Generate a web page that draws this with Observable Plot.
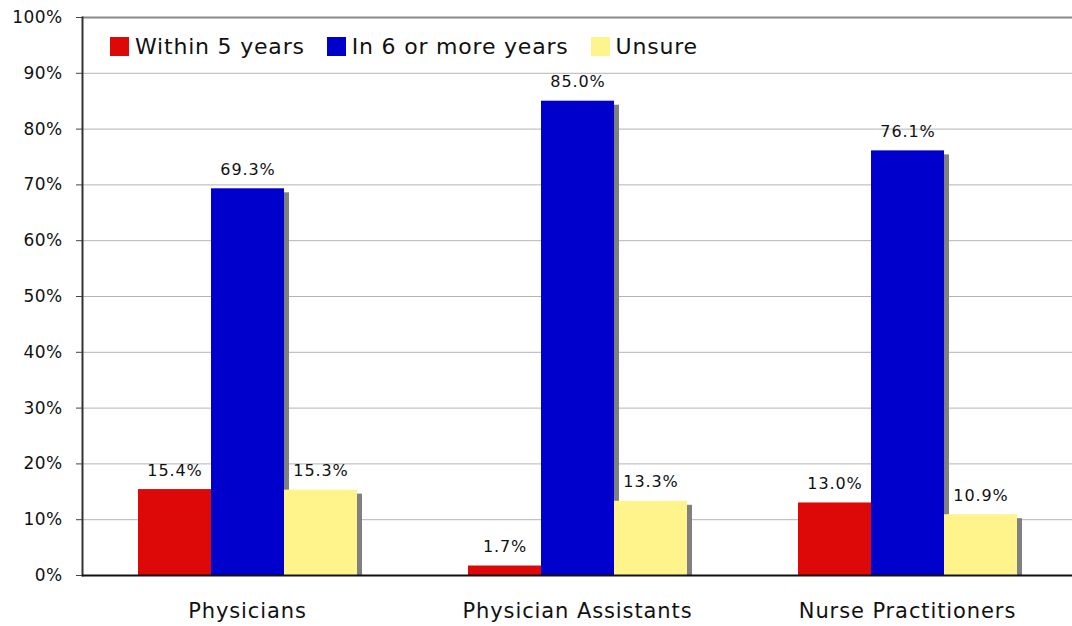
<!DOCTYPE html>
<html>
<head>
<meta charset="utf-8">
<script src="https://cdn.jsdelivr.net/npm/d3@7"></script>
<script src="https://cdn.jsdelivr.net/npm/@observablehq/plot@0.6"></script>
<style>
  html, body { margin: 0; padding: 0; background: #fff; }
  #chart { position: relative; width: 1072px; height: 626px; font-family: "DejaVu Sans", Verdana, sans-serif; }
  #chart svg text { letter-spacing: 0.9px; }
  #chart svg g[aria-label="y-axis tick label"] text { letter-spacing: 0.4px; }
  #legend { position: absolute; left: 110px; top: 34px; display: flex; align-items: center; font-size: 22px; color: #111; letter-spacing: 0.8px; }
  #legend .item { display: flex; align-items: center; margin-right: 22px; }
  #legend .swatch { width: 19px; height: 19px; margin-right: 6px; }
</style>
</head>
<body>
<div id="chart"><div id="legend"></div></div>
<script>
// Professions surveyed
const categories = ["Physicians", "Physician Assistants", "Nurse Practitioners"];
// Response groups (planned timing)
const seriesNames = ["Within 5 years", "In 6 or more years", "Unsure"];
// Share of respondents, percent
const within5Years = [15.4, 1.7, 13.0];
const sixOrMoreYears = [69.3, 85.0, 76.1];
const unsure = [15.3, 13.3, 10.9];
const seriesColors = ["#dd0808", "#0000cc", "#fff38c"];
const yTicks = [0, 10, 20, 30, 40, 50, 60, 70, 80, 90, 100];

const seriesValues = [within5Years, sixOrMoreYears, unsure];
const rows = [];
seriesNames.forEach((s, si) => {
  categories.forEach((c, ci) => {
    rows.push({category: c, series: s, value: seriesValues[si][ci]});
  });
});

const barMarks = [];
seriesNames.forEach((s) => {
  const data = rows.filter(d => d.series === s);
  // drop shadow behind each bar
  barMarks.push(Plot.barY(data, {
    fx: "category", x: "series", y: "value",
    fill: "#808080", dx: 5, insetTop: 4
  }));
  barMarks.push(Plot.barY(data, {
    fx: "category", x: "series", y: "value", fill: "series"
  }));
});

const chart = Plot.plot({
  width: 1072,
  height: 626,
  marginLeft: 82,
  marginRight: 0,
  marginTop: 17,
  marginBottom: 51,
  style: {fontFamily: "'DejaVu Sans', Verdana, sans-serif", background: "#fff", color: "#111"},
  fx: {domain: categories, padding: 0, label: null},
  x: {domain: seriesNames, paddingInner: 0, paddingOuter: 0.74, axis: null},
  y: {domain: [0, 100], label: null},
  color: {domain: seriesNames, range: seriesColors},
  marks: [
    Plot.ruleY(yTicks.slice(1, -1), {stroke: "#b4b4b4", strokeWidth: 1}),
    Plot.ruleY([100], {stroke: "#888", strokeWidth: 2}),
    ...barMarks,
    Plot.text(rows, {
      fx: "category", x: "series", y: "value",
      text: d => d.value.toFixed(1) + "%",
      dy: -19, fontSize: 16, fill: "#111"
    }),
    Plot.axisY(yTicks, {
      tickSize: 6, tickPadding: 14, fontSize: 17,
      tickFormat: d => d + "%", label: null, stroke: "#444"
    }),
    Plot.frame({anchor: "left", stroke: "#333", strokeWidth: 2, facetAnchor: "left"}),
    Plot.ruleY([0], {stroke: "#111", strokeWidth: 2}),
    Plot.axisFx({anchor: "bottom", tickSize: 0, tickPadding: 28, fontSize: 21, label: null})
  ]
});

const container = document.getElementById("chart");
container.insertBefore(chart, container.firstChild);

const legend = document.getElementById("legend");
seriesNames.forEach((s, i) => {
  const item = document.createElement("div");
  item.className = "item";
  const sw = document.createElement("div");
  sw.className = "swatch";
  sw.style.background = seriesColors[i];
  const label = document.createElement("span");
  label.textContent = s;
  item.appendChild(sw);
  item.appendChild(label);
  legend.appendChild(item);
});
</script>
</body>
</html>
